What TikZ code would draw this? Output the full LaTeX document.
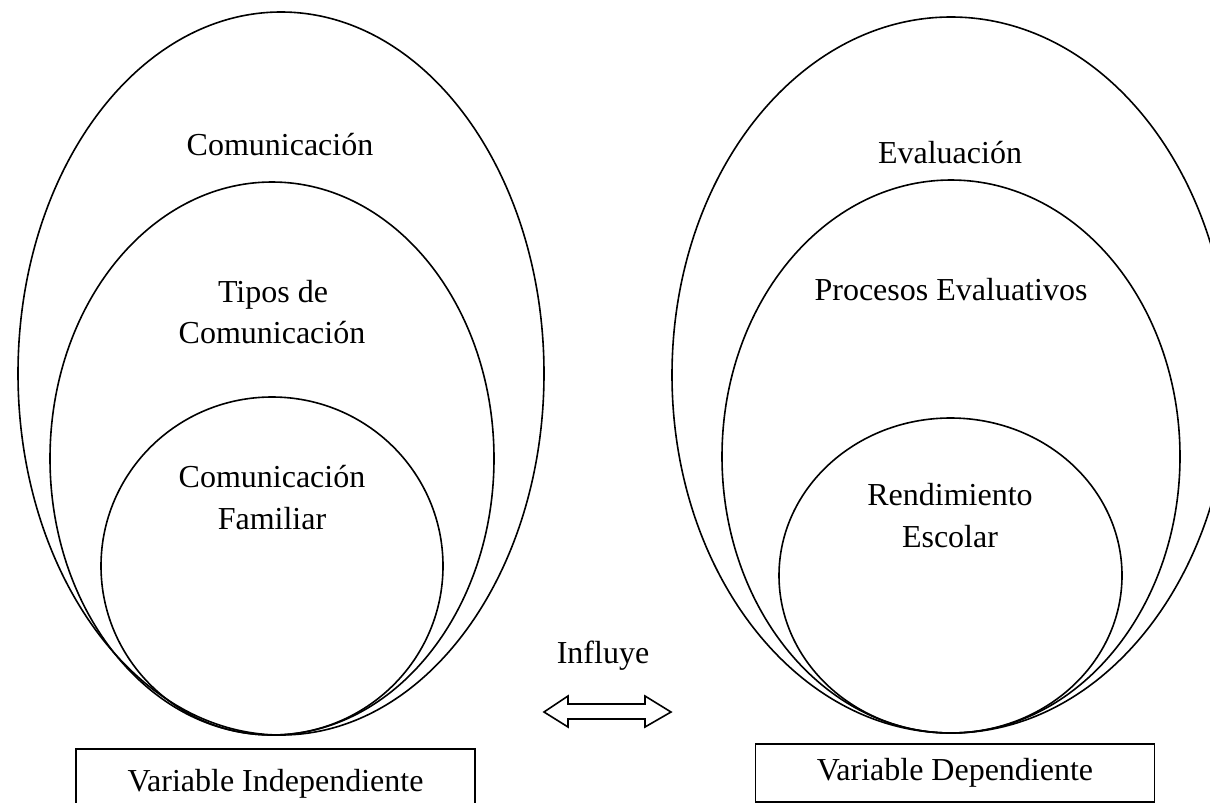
\documentclass[tikz,border=0pt]{standalone}
\usepackage{fontspec}
\setmainfont{Liberation Serif}
\usetikzlibrary{shapes.geometric}
\tikzset{
  ring/.style={draw, line width=0.8pt, ellipse, inner sep=0pt},
  lbl/.style={font=\fontsize{16}{21}\selectfont, anchor=base, align=center, inner sep=0pt},
  varbox/.style={draw, line width=0.8pt, font=\fontsize{16}{21}\selectfont, minimum width=199.5pt, inner sep=0pt, anchor=north}
}
\begin{document}
\begin{tikzpicture}[x=0.5pt, y=-0.5pt]
\useasboundingbox (0,0) rectangle (1210,803);
\clip (0,0) rectangle (1210,803);
% left group
\node[ring, minimum width=263pt, minimum height=361.5pt] (lo) at (281,373.5) {};
\node[ring, minimum width=222pt, minimum height=276.5pt] (lm) at (272,458.5) {};
\node[ring, minimum width=171pt, minimum height=169pt] (li) at (272,566) {};
\node[lbl] (tlo) at (280,155) {Comunicación};
\node[lbl] (tlm1) at (273,302) {Tipos de};
\node[lbl] (tlm2) at (272,343) {Comunicación};
\node[lbl] (tli1) at (272,487) {Comunicación};
\node[lbl] (tli2) at (272,529) {Familiar};
% right group
\node[ring, minimum width=279pt, minimum height=358pt] (ro) at (951,375) {};
\node[ring, minimum width=229pt, minimum height=276.5pt] (rm) at (951,456.5) {};
\node[ring, minimum width=171.5pt, minimum height=157.5pt] (ri) at (950.5,575.5) {};
\node[lbl] (tro) at (950,163) {Evaluación};
\node[lbl] (trm) at (951,300) {Procesos Evaluativos};
\node[lbl] (tri1) at (950,505) {Rendimiento};
\node[lbl] (tri2) at (950,547) {Escolar};
% boxes
\node[varbox, minimum height=34.5pt] (vi) at (275.5,748) {Variable Independiente};
\node[varbox, minimum height=29pt] (vd) at (955,743) {Variable Dependiente};
% middle
\node[lbl] (inf) at (603,663) {Influye};
\draw[line width=0.8pt, line join=miter] (544,712) -- (568,696) -- (568,704) -- (645,704) -- (645,696) -- (671,712) -- (645,727) -- (645,719) -- (568,719) -- (568,727) -- cycle;
\end{tikzpicture}
\end{document}
